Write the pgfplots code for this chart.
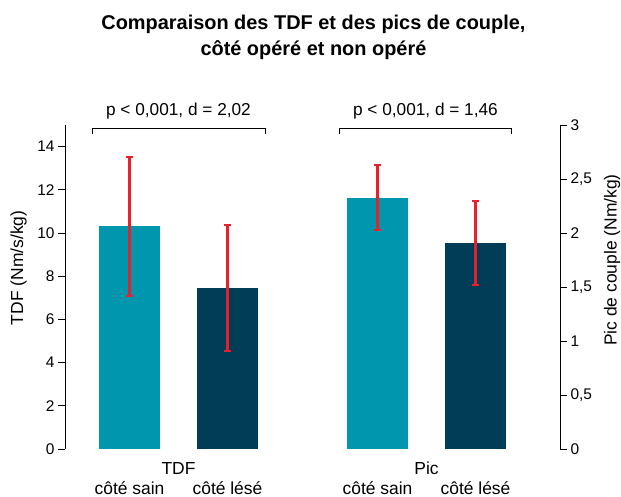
\documentclass[border=0pt]{standalone}
\usepackage{pgfplots}
\pgfplotsset{compat=1.18}
\usepackage{fontspec}
\setmainfont{Liberation Sans}
\definecolor{barteal}{HTML}{0097AE}
\definecolor{barnavy}{HTML}{023D57}
\definecolor{errred}{HTML}{E8202A}
\begin{document}
\begin{tikzpicture}
\path[use as bounding box] (-65bp,-48bp) rectangle (556bp,449bp);
\pgfplotsset{
  errline/.style={color=errred, line width=2.2bp, mark=none, forget plot},
  errcap/.style={color=errred, line width=2bp, only marks, mark=-, mark size=3.5bp,
     mark options={solid, color=errred, line width=2bp}, forget plot},
  every axis/.append style={
  scale only axis, width=495bp, height=324bp,
  xmin=0, xmax=5.051, ymin=0,
  tick align=outside, major tick length=7bp,
  tick style={black, line width=0.8pt},
  /pgf/number format/assume math mode=true,
  /pgf/number format/use comma,
  ticklabel style={font=\fontsize{15.5}{17}\selectfont},
  label style={font=\fontsize{17.5}{20}\selectfont},
  clip=false,
}}
\begin{axis}[
  axis x line=none, axis y line*=left,
  ymax=15, ytick={0,2,...,14},
  axis line style={line width=0.8pt},
  ylabel={TDF (Nm/s/kg)},
  ylabel style={at={([xshift=-46.5bp]axis description cs:0,0.559)}, anchor=center},
]
\addplot[ybar, bar width=0.622, fill=barteal, draw=none] coordinates {(0.658,10.32)};
\addplot[ybar, bar width=0.622, fill=barnavy, draw=none] coordinates {(1.658,7.45)};
\addplot[errline] coordinates {(0.658,7.10) (0.658,13.54)};
\addplot[errcap] coordinates {(0.658,7.10) (0.658,13.54)};
\addplot[errline] coordinates {(1.658,4.53) (1.658,10.37)};
\addplot[errcap] coordinates {(1.658,4.53) (1.658,10.37)};
\draw[line width=1pt] (axis cs:0.276,14.58) -- (axis cs:0.276,14.83) -- (axis cs:2.041,14.83) -- (axis cs:2.041,14.58);
\draw[line width=1pt] (axis cs:2.796,14.58) -- (axis cs:2.796,14.83) -- (axis cs:4.561,14.83) -- (axis cs:4.561,14.58);
\node[anchor=base, font=\fontsize{17.3}{20}\selectfont] at ([yshift=13bp]axis cs:1.158,14.83) {p < 0,001, d = 2,02};
\node[anchor=base, font=\fontsize{17.3}{20}\selectfont] at ([yshift=13bp]axis cs:3.678,14.83) {p < 0,001, d = 1,46};
\node[anchor=base, font=\fontsize{17.5}{20}\selectfont] at ([yshift=-25bp]axis cs:1.158,0) {TDF};
\node[anchor=base, font=\fontsize{17.5}{20}\selectfont] at ([yshift=-25bp]axis cs:3.689,0) {Pic};
\node[anchor=base, font=\fontsize{17.5}{20}\selectfont] at ([yshift=-45bp]axis cs:0.658,0) {côté sain};
\node[anchor=base, font=\fontsize{17.5}{20}\selectfont] at ([yshift=-45bp]axis cs:1.658,0) {côté lésé};
\node[anchor=base, font=\fontsize{17.5}{20}\selectfont] at ([yshift=-45bp]axis cs:3.189,0) {côté sain};
\node[anchor=base, font=\fontsize{17.5}{20}\selectfont] at ([yshift=-45bp]axis cs:4.189,0) {côté lésé};
\node[align=center, font=\bfseries\fontsize{20}{26}\selectfont] at ([yshift=88bp]axis cs:2.535,15) {Comparaison des TDF et des pics de couple,\\côté opéré et non opéré};
\end{axis}
\begin{axis}[
  axis x line=none, axis y line*=right,
  ymax=3, ytick={0,0.5,...,3},
  axis line style={line width=0.8pt},
  ylabel={Pic de couple (Nm/kg)},
  ylabel style={at={([xshift=52bp]axis description cs:1,0.583)}, anchor=center},
]
\addplot[ybar, bar width=0.622, fill=barteal, draw=none] coordinates {(3.189,2.325)};
\addplot[ybar, bar width=0.622, fill=barnavy, draw=none] coordinates {(4.189,1.91)};
\addplot[errline] coordinates {(3.189,2.025) (3.189,2.625)};
\addplot[errcap] coordinates {(3.189,2.025) (3.189,2.625)};
\addplot[errline] coordinates {(4.189,1.52) (4.189,2.30)};
\addplot[errcap] coordinates {(4.189,1.52) (4.189,2.30)};
\end{axis}
\end{tikzpicture}
\end{document}
